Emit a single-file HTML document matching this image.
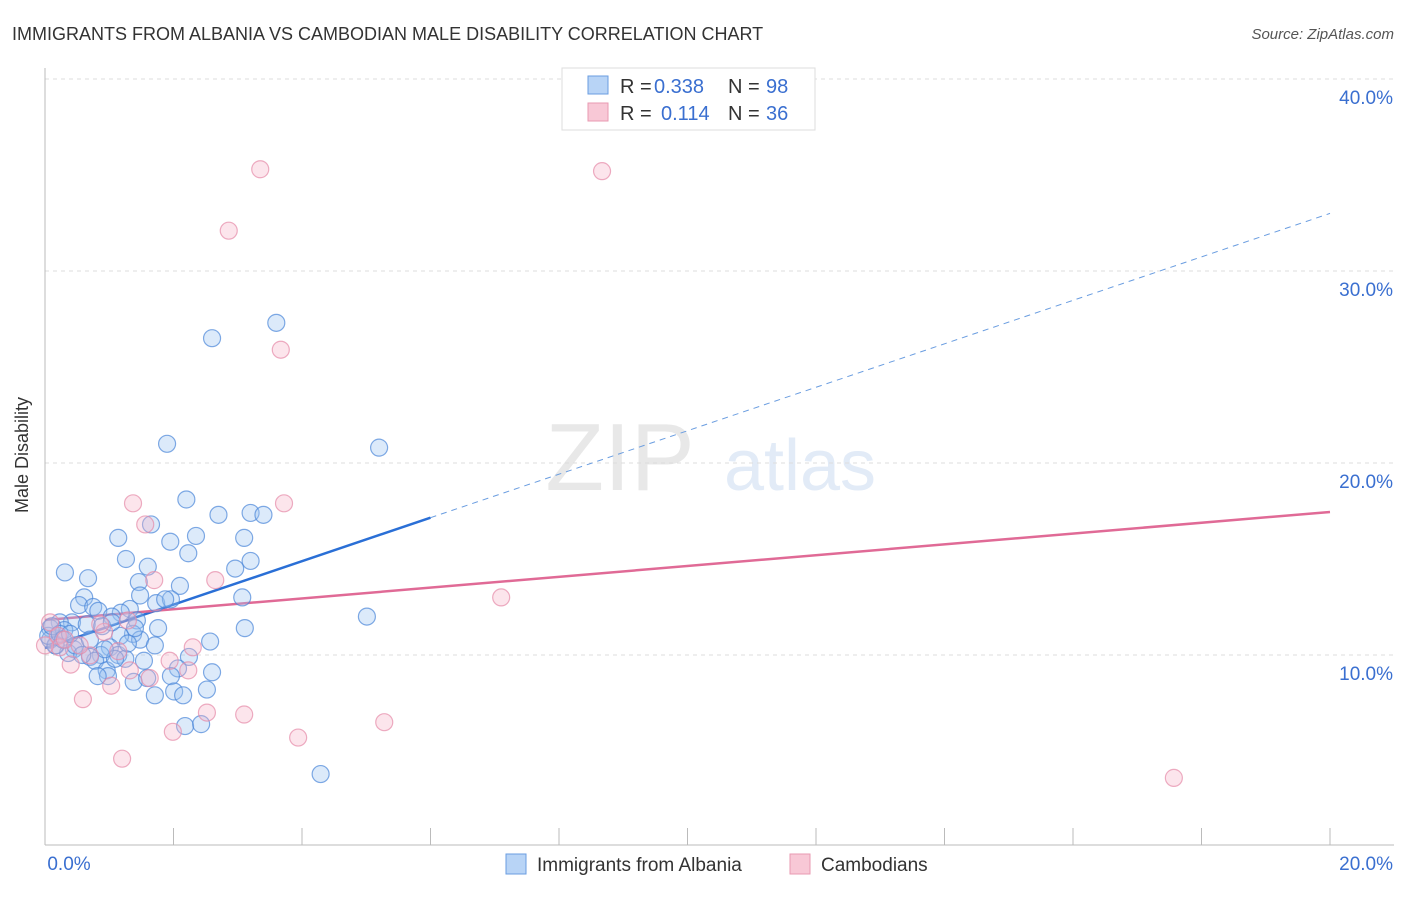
<!DOCTYPE html>
<html><head><meta charset="utf-8"><style>
body{margin:0;background:#fff;font-family:"Liberation Sans",sans-serif}
svg text{font-family:"Liberation Sans",sans-serif}
</style></head><body>
<svg width="1406" height="892" viewBox="0 0 1406 892">
<text x="12" y="40" font-size="18" fill="#333">IMMIGRANTS FROM ALBANIA VS CAMBODIAN MALE DISABILITY CORRELATION CHART</text>
<text x="1394" y="39" font-size="15" fill="#555" font-style="italic" text-anchor="end">Source: ZipAtlas.com</text>
<text x="620" y="490" font-size="96" fill="#e8e8e8" font-family="Liberation Serif" text-anchor="middle">ZIP</text>
<text x="800" y="490" font-size="72" fill="#e2ebf7" text-anchor="middle">atlas</text>
<g id="grid"></g><g id="axes"></g><g id="trend"></g><g id="pts"></g>
<text x="28" y="455" font-size="18" fill="#333" transform="rotate(-90 28 455)" text-anchor="middle">Male Disability</text>
<g>
<rect x="562" y="68" width="253" height="62" fill="#fff" stroke="#ddd"/>
<rect x="588" y="76" width="20" height="18" fill="#b8d4f6" stroke="#6a9de0"/>
<rect x="588" y="103" width="20" height="18" fill="#f8c8d6" stroke="#e89ab2"/>
<text x="620" y="93" font-size="20" fill="#333">R =</text>
<text x="654" y="93" font-size="20" fill="#3a6fd0">0.338</text>
<text x="728" y="93" font-size="20" fill="#333">N =</text>
<text x="766" y="93" font-size="20" fill="#3a6fd0">98</text>
<text x="620" y="120" font-size="20" fill="#333">R =</text>
<text x="661" y="120" font-size="20" fill="#3a6fd0">0.114</text>
<text x="728" y="120" font-size="20" fill="#333">N =</text>
<text x="766" y="120" font-size="20" fill="#3a6fd0">36</text>
</g>
<g>
<rect x="506" y="854" width="20" height="20" fill="#b8d4f6" stroke="#6a9de0"/>
<text x="537" y="871" font-size="19" fill="#333">Immigrants from Albania</text>
<rect x="790" y="854" width="20" height="20" fill="#f8c8d6" stroke="#e89ab2"/>
<text x="821" y="871" font-size="19" fill="#333">Cambodians</text>
</g>
</svg>
<script>
const xTicks=[0,2,4,6,8,10,12,14,16,18,20];
const yTicks=[10,20,30,40];
const yTickLabels=["10.0%","20.0%","30.0%","40.0%"];
const xTickLabels=["0.0%","20.0%"];
const blueX=[3.6,2.6,1.9,5.2,2.2,2.7,3.2,3.4,1.65,2.35,1.14,1.95,3.1,3.2,1.26,2.23,2.96,1.6,0.31,0.67,1.46,2.1,3.07,1.48,1.73,1.96,0.61,1.87,0.53,0.75,0.83,1.32,1.18,1.04,0.42,0.23,5.01,1.43,0.65,1.76,1.37,3.11,0.89,0.08,0.3,2.57,1.48,1.71,1.17,1.01,0.17,0.45,0.87,0.36,0.7,1.14,1.25,0.78,1.54,2.24,2.07,2.6,0.96,0.98,1.96,0.82,1.38,1.59,2.52,2.01,1.71,2.15,2.18,2.43,4.29,0.08,0.16,0.05,0.11,0.23,0.28,0.47,0.58,1.09,0.93,1.29,0.7,0.39,1.04,1.4];
const blueY=[27.3,26.5,21.0,20.8,18.1,17.3,17.4,17.3,16.8,16.2,16.1,15.9,16.1,14.9,15.0,15.3,14.5,14.6,14.3,14.0,13.8,13.6,13.0,13.1,12.7,12.9,13.0,12.9,12.6,12.5,12.3,12.4,12.2,12.0,11.7,11.7,12.0,11.8,11.6,11.4,11.1,11.4,11.5,11.4,11.3,10.7,10.8,10.5,11.0,10.4,10.5,10.3,10.0,10.1,9.9,10.0,9.8,9.7,9.7,9.9,9.3,9.1,9.2,8.9,8.9,8.9,8.6,8.8,8.2,8.1,7.9,7.9,6.3,6.4,3.8,10.8,10.5,11.0,11.5,11.1,10.8,10.5,10.0,9.8,10.3,10.6,10.8,11.1,11.7,11.4];
const pinkX=[3.35,8.67,2.86,3.67,1.37,3.72,1.56,1.7,2.65,7.1,0.08,0.92,0.2,1.29,2.3,1.14,1.94,0.4,2.23,0.7,1.63,1.03,0.59,2.52,3.1,5.28,1.99,3.94,1.2,17.57,0.23,0.0,0.31,0.86,0.54,1.32];
const pinkY=[35.3,35.2,32.1,25.9,17.9,17.9,16.8,13.9,13.9,13.0,11.7,11.2,11.0,11.8,10.4,10.2,9.7,9.5,9.2,9.98,8.8,8.4,7.7,7.0,6.9,6.5,6.0,5.7,4.6,3.6,10.4,10.5,10.8,11.6,10.5,9.2];
const blueTrend=[10.36,33.0], blueSolidEnd=6.0, pinkTrend=[11.82,17.45];
const X=v=>45+v/20*1285, Y=v=>847-v*19.2;
const NS="http://www.w3.org/2000/svg";
function mk(t,a,p){const e=document.createElementNS(NS,t);for(const k in a)e.setAttribute(k,a[k]);document.getElementById(p).appendChild(e);return e;}
yTicks.forEach((t,i)=>{
 const g=mk('line',{x1:45,x2:1394,y1:Y(t),y2:Y(t),stroke:'#ddd','stroke-dasharray':'4,4'},'grid');
 
 
 const l=mk('text',{x:1393,y:Y(t)+25,'font-size':19,fill:'#3a6fd0','text-anchor':'end'},'axes');l.textContent=yTickLabels[i];
 
 
});
mk('line',{x1:45,x2:45,y1:68,y2:845,stroke:'#bbb'},'axes');
const ax=mk('line',{x1:45,x2:1394,y1:845,y2:845,stroke:'#bbb'},'axes');


xTicks.forEach(t=>{const e=mk('line',{x1:X(t),x2:X(t),y1:828,y2:845,stroke:'#bbb'},'axes');
 
 });
[[0,69],[20,1393]].forEach((a,i)=>{const e=mk('text',{x:a[1],y:870,'font-size':19,fill:'#3a6fd0','text-anchor':'middle'},'axes');
 if(i==1)e.setAttribute('text-anchor','end');e.textContent=xTickLabels[i];
 
 });
function pts(xs,ys,fill,stroke,name){xs.forEach((x,i)=>{const c=mk('circle',{cx:X(x),cy:Y(ys[i]),r:8.5,fill:fill,'fill-opacity':0.35,stroke:stroke,'stroke-width':1.2,'stroke-opacity':0.7},'pts');
 
 });}
pts(blueX,blueY,'#9cc3f2','#4a86d8','albania-point');
pts(pinkX,pinkY,'#f6b4c8','#e58aa8','cambodian-point');
const by=v=>blueTrend[0]+(blueTrend[1]-blueTrend[0])*v/20;
const b1=mk('line',{x1:X(0),y1:Y(by(0)),x2:X(blueSolidEnd),y2:Y(by(blueSolidEnd)),stroke:'#2a6fd6','stroke-width':2.5},'trend');


const b2=mk('line',{x1:X(blueSolidEnd),y1:Y(by(blueSolidEnd)),x2:X(20),y2:Y(by(20)),stroke:'#6a9de0','stroke-width':1,'stroke-dasharray':'6,5'},'trend');


const p1=mk('line',{x1:X(0),y1:Y(pinkTrend[0]),x2:X(20),y2:Y(pinkTrend[1]),stroke:'#e06a96','stroke-width':2.5},'trend');


</script>
</body></html>
